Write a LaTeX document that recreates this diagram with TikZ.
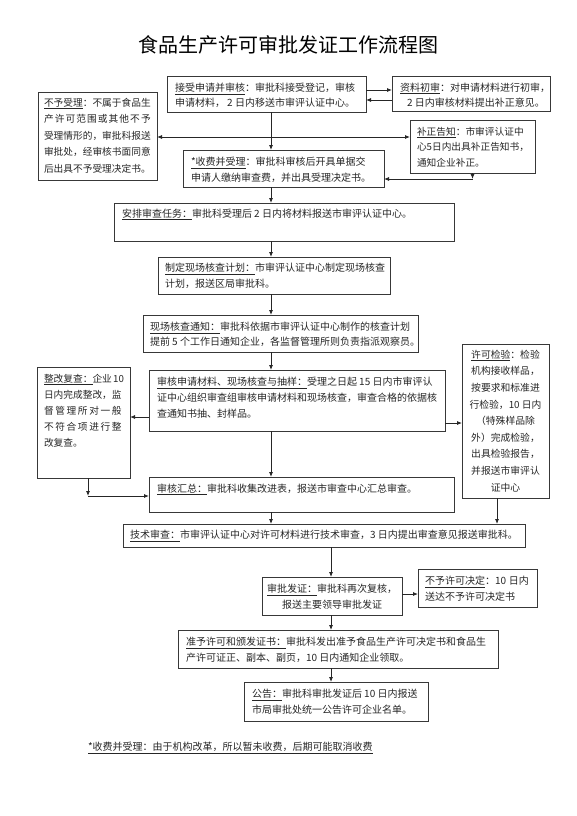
\documentclass[tikz,border=0pt]{standalone}
\usepackage{fontspec}
\setmainfont{Noto Sans CJK SC}
\usetikzlibrary{arrows.meta}
\begin{document}
\begin{tikzpicture}[x=1pt,y=-1pt,
  box/.style={draw=black!78, line width=0.9pt, anchor=north west, inner sep=0pt, outer sep=0pt},
  txt/.style={anchor=north west, inner sep=0pt, outer sep=0pt, align=left, text=black!85, font=\fontsize{10}{16}\selectfont},
  ctxt/.style={txt, anchor=north, align=center},
  tip/.style={-{Latex[length=5pt,width=4pt]}, line width=0.8pt, draw=black!85},
  dtip/.style={{Latex[length=5pt,width=4pt]}-{Latex[length=5pt,width=4pt]}, line width=0.8pt, draw=black!85}]
\fill[white] (0,0) rectangle (576,816);
\useasboundingbox (0,0) rectangle (576,816);

% title
\node[font=\fontsize{20}{24}\selectfont] (title) at (288,45) {食品生产许可审批发证工作流程图};

% boxes
\node[box, minimum width=199pt, minimum height=36pt] (a) at (167,76) {};
\node[box, minimum width=158pt, minimum height=35pt] (b) at (392,76) {};
\node[box, minimum width=119pt, minimum height=88pt] (c) at (38,92) {};
\node[box, minimum width=125pt, minimum height=53pt] (d) at (410,120) {};
\node[box, minimum width=201pt, minimum height=37pt] (e) at (183,150) {};
\node[box, minimum width=340pt, minimum height=38pt] (f) at (114,203) {};
\node[box, minimum width=232pt, minimum height=37pt] (g) at (158,257) {};
\node[box, minimum width=275pt, minimum height=37pt] (h) at (143,315) {};
\node[box, minimum width=296pt, minimum height=61pt] (i) at (149,370) {};
\node[box, minimum width=93pt, minimum height=111pt] (j) at (37,367) {};
\node[box, minimum width=87pt, minimum height=154pt] (k) at (462,344) {};
\node[box, minimum width=305pt, minimum height=35pt] (m) at (149,477) {};
\node[box, minimum width=402pt, minimum height=23pt] (n) at (123,524) {};
\node[box, minimum width=140pt, minimum height=38pt] (o) at (262,577) {};
\node[box, minimum width=119pt, minimum height=38pt] (p) at (418,569) {};
\node[box, minimum width=320pt, minimum height=38pt] (q) at (178,630) {};
\node[box, minimum width=184pt, minimum height=39pt] (r) at (244,682) {};

% texts
\node[txt, font=\fontsize{10}{15}\selectfont] (ta) at (175,83) {\underline{接受申请并审核}：审批科接受登记，审核\\申请材料， 2 日内移送市审评认证中心。};
\node[txt, font=\fontsize{10}{15}\selectfont] (tb) at (400,83) {\underline{资料初审}：对申请材料进行初审，\\\hspace{7pt}2 日内审核材料提出补正意见。};
\node[txt, font=\fontsize{9.7}{16.5}\selectfont] (tc) at (44,98) {\underline{不予受理}：不属于食品生\\\makebox[106.7pt][s]{产\hfill 许\hfill 可\hfill 范\hfill 围\hfill 或\hfill 其\hfill 他\hfill 不\hfill 予}\\受理情形的，审批科报送\\审批处，经审核书面同意\\后出具不予受理决定书。};
\node[txt, font=\fontsize{9.7}{15.5}\selectfont] (td) at (417,127) {\underline{补正告知}：市审评认证中\\心5日内出具补正告知书，\\通知企业补正。};
\node[txt] (te) at (191,157) {\underline{*收费并受理}：审批科审核后开具单据交\\申请人缴纳审查费，并出具受理决定书。};
\node[txt] (tf) at (122,209) {\underline{安排审查任务：}审批科受理后 2 日内将材料报送市审评认证中心。};
\node[txt] (tg) at (165,263) {\underline{制定现场核查计划：}市审评认证中心制定现场核查\\计划，报送区局审批科。};
\node[txt, font=\fontsize{10}{15.5}\selectfont] (th) at (150,322) {\underline{现场核查通知：}审批科依据市审评认证中心制作的核查计划\\提前 5 个工作日通知企业，各监督管理所则负责指派观察员。};
\node[txt] (ti) at (157,377) {\underline{审核申请材料、现场核查与抽样：}受理之日起 15 日内市审评认\\证中心组织审查组审核申请材料和现场核查，审查合格的依据核\\查通知书抽、封样品。};
\node[txt, font=\fontsize{9.7}{16}\selectfont] (tj) at (44,374) {\makebox[80pt][s]{\underline{整改复查：}企业\hfill 10}\\日内完成整改，监\\\makebox[77.6pt][s]{督\hfill 管\hfill 理\hfill 所\hfill 对\hfill 一\hfill 般}\\\makebox[77.6pt][s]{不\hfill 符\hfill 合\hfill 项\hfill 进\hfill 行\hfill 整}\\改复查。};
\node[ctxt, font=\fontsize{9.8}{16.6}\selectfont] (tk) at (505.5,350) {\underline{许可检验}：检验\\机构接收样品，\\按要求和标准进\\行检验，10 日内\\（特殊样品除\\外）完成检验，\\出具检验报告，\\并报送市审评认\\证中心};
\node[txt] (tm) at (157,484) {\underline{审核汇总：}审批科收集改进表，报送市审查中心汇总审查。};
\node[txt] (tn) at (130,530) {\underline{技术审查：}市审评认证中心对许可材料进行技术审查，3 日内提出审查意见报送审批科。};
\node[ctxt] (to) at (332,584) {\underline{审批发证：}审批科再次复核，\\报送主要领导审批发证};
\node[txt] (tp) at (425,576) {\makebox[104pt][s]{\underline{不予许可决定}：10\hfill 日内}\\送达不予许可决定书};
\node[txt] (tq) at (186,637) {\underline{准予许可和颁发证书：}审批科发出准予食品生产许可决定书和食品生\\产许可证正、副本、副页，10 日内通知企业领取。};
\node[txt] (tr) at (252,689) {\underline{公告：}审批科审批发证后 10 日内报送\\市局审批处统一公告许可企业名单。};
\node[txt, anchor=west] (note) at (88,748) {\underline{*收费并受理：由于机构改革，所以暂未收费，后期可能取消收费}};

% helper coordinates
\coordinate (X1) at (271,0);
\coordinate (X2) at (331,0);
\coordinate (Xz) at (88,0);
\coordinate (Xk) at (497,0);
\coordinate (Y1) at (0,90);
\coordinate (Y2) at (0,100);
\coordinate (Y3) at (0,137);
\coordinate (Y4) at (0,179);
\coordinate (Y5) at (0,417);
\coordinate (Y6) at (0,423);
\coordinate (Y7) at (0,496);
\coordinate (Y8) at (0,594);

% connectors
\draw[tip] (a.east |- Y1) -- (b.west |- Y1);
\draw[tip] (b.west |- Y2) -- (a.east |- Y2);
\draw[dtip] (c.east |- Y3) -- (d.west |- Y3);
\draw[tip] (a.south -| X1) -- (e.north -| X1);
\draw[tip] (d.south) -- (d.south |- Y4);
\draw[tip] (d.south |- Y4) -- (e.east |- Y4);
\draw[tip] (e.south -| X1) -- (f.north -| X1);
\draw[tip] (f.south -| X1) -- (g.north -| X1);
\draw[tip] (g.south -| X1) -- (h.north -| X1);
\draw[tip] (h.south -| X1) -- (i.north -| X1);
\draw[tip] (i.west |- Y5) -- (j.east |- Y5);
\draw[tip] (i.east |- Y6) -- (k.west |- Y6);
\draw[tip] (i.south -| X1) -- (m.north -| X1);
\draw[tip] (j.south -| Xz) -- (Xz |- Y7);
\draw[tip] (Xz |- Y7) -- (m.west |- Y7);
\draw[tip] (m.south -| X1) -- (n.north -| X1);
\draw[tip] (k.south -| Xk) -- (n.north -| Xk);
\draw[tip] (n.south -| X2) -- (o.north -| X2);
\draw[tip] (o.east |- Y8) -- (p.west |- Y8);
\draw[tip] (o.south -| X2) -- (q.north -| X2);
\draw[tip] (q.south -| X2) -- (r.north -| X2);
\end{tikzpicture}
\end{document}
